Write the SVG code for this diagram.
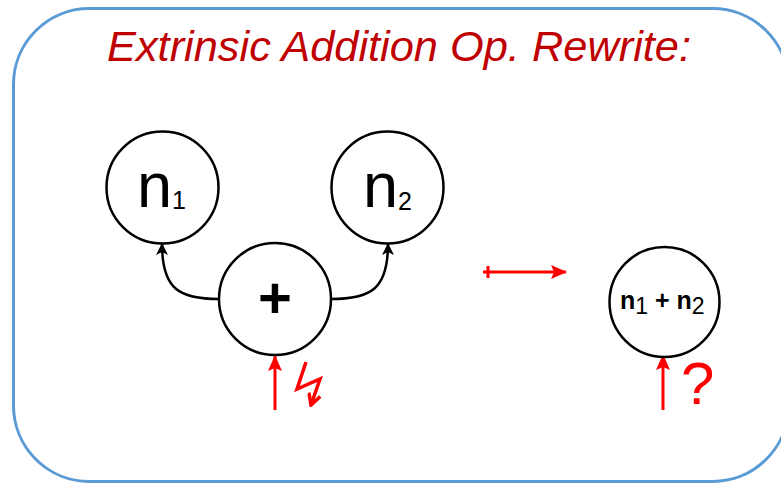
<svg xmlns="http://www.w3.org/2000/svg" width="781" height="484" viewBox="0 0 781 484">
<defs>
<style>
.frame{fill:#fff;stroke:#5B9BD5;stroke-width:3}
.node{fill:#fff;stroke:#000;stroke-width:2.5}
.t{font-family:"Liberation Sans",Arial,sans-serif;fill:#000}
.edge{fill:none;stroke:#000;stroke-width:2.5}
.red{fill:none;stroke:#FF0000;stroke-width:3}
</style>
<marker id="ah" viewBox="0 0 12 12" refX="11" refY="6" markerWidth="12" markerHeight="12" markerUnits="userSpaceOnUse" orient="auto">
<path d="M0,0 L12,6 L0,12 L3,6 Z" fill="#000"/>
</marker>
<marker id="ahr" viewBox="0 0 16 14" refX="15" refY="7" markerWidth="16" markerHeight="14" markerUnits="userSpaceOnUse" orient="auto">
<path d="M0,0 L16,7 L0,14 L3,7 Z" fill="#FF0000"/>
</marker>
<marker id="ahb" viewBox="0 0 14 14" refX="12" refY="7" markerWidth="14" markerHeight="14" markerUnits="userSpaceOnUse" orient="auto">
<path d="M1,1 L12,7 L1,13" fill="none" stroke="#FF0000" stroke-width="3.5"/>
</marker>
</defs>
<rect class="frame" x="13.5" y="8.5" width="775" height="473" rx="76" ry="76"/>
<text x="107" y="61" font-family="Liberation Sans,Arial,sans-serif" font-style="italic" font-size="43" fill="#C00000" textLength="584" lengthAdjust="spacingAndGlyphs">Extrinsic Addition Op. Rewrite:</text>
<g id="connectors">
<path class="edge" d="M219,299 C180,299 162,290 162,244" marker-end="url(#ah)"/>
<path class="edge" d="M331,299 C370,299 388,290 388,244" marker-end="url(#ah)"/>
<path class="red" d="M275,410 L275,356" marker-end="url(#ahr)"/>
<path class="red" d="M663,410 L663,355" marker-end="url(#ahr)"/>
<path class="red" d="M483,272 L566,272" marker-end="url(#ahr)"/>
<path class="red" d="M488,266 L488,278"/>
<polyline class="red" style="stroke-width:3.5" points="306,362 297,389 320,379 311,405" marker-end="url(#ahb)"/>
</g>
<g id="n1">
<circle class="node" cx="162.5" cy="187.5" r="56"/>
<text class="t" x="137" y="207" font-size="63">n<tspan font-size="25" y="209">1</tspan></text>
</g>
<g id="n2">
<circle class="node" cx="387.5" cy="187.5" r="56"/>
<text class="t" x="363" y="207" font-size="63">n<tspan font-size="25" y="210">2</tspan></text>
</g>
<g id="plus">
<circle class="node" cx="275" cy="299" r="56"/>
<text class="t" x="275" y="318" font-size="58" font-weight="bold" text-anchor="middle">+</text>
</g>
<g id="sum">
<circle class="node" cx="664.5" cy="302" r="55"/>
<text class="t" x="620" y="309" font-size="25" font-weight="bold">n<tspan font-weight="normal" font-size="23" y="314">1</tspan><tspan y="309"> + n</tspan><tspan font-weight="normal" font-size="23" y="314">2</tspan></text>
</g>
<text x="681" y="404" font-family="Liberation Sans,Arial,sans-serif" font-size="60" fill="#FF0000">?</text>
</svg>
